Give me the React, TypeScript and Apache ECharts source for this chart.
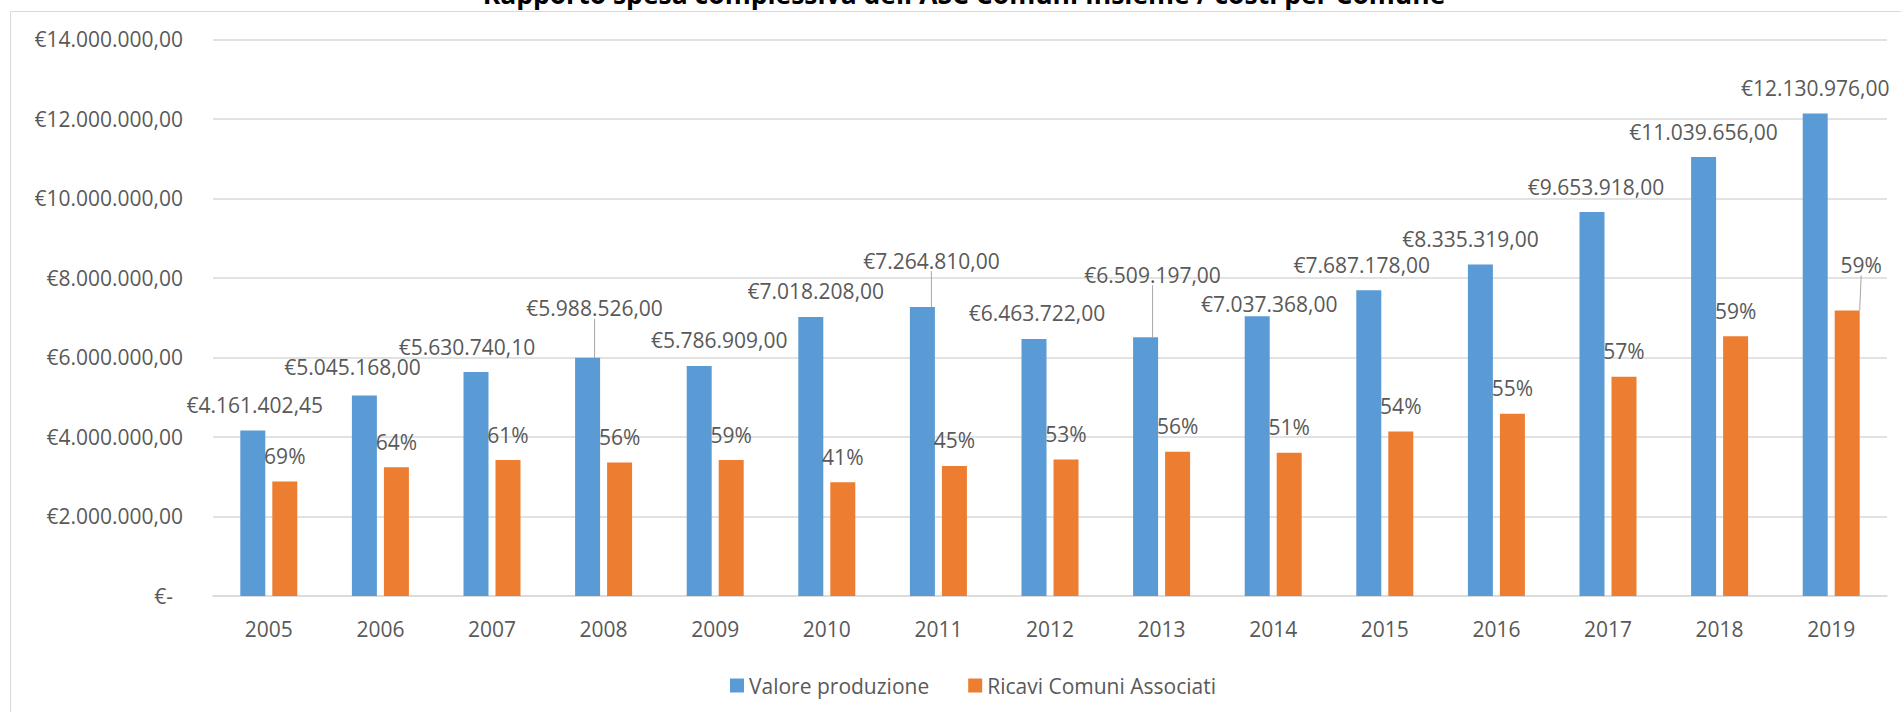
import React, { useEffect, useRef } from "react";
import * as echarts from "echarts";

const years = ["2005", "2006", "2007", "2008", "2009", "2010", "2011", "2012", "2013", "2014", "2015", "2016", "2017", "2018", "2019"];
const valoreProduzione = [4161402.45, 5045168, 5630740.1, 5988526, 5786909, 7018208, 7264810, 6463722, 6509197, 7037368, 7687178, 8335319, 9653918, 11039656, 12130976];
const ricaviComuni = [2880000, 3235000, 3420000, 3360000, 3420000, 2860000, 3270000, 3435000, 3630000, 3600000, 4135000, 4585000, 5515000, 6530000, 7180000];
const percentLabels = ["69%", "64%", "61%", "56%", "59%", "41%", "45%", "53%", "56%", "51%", "54%", "55%", "57%", "59%", "59%"];
const yTicks = [0, 2000000, 4000000, 6000000, 8000000, 10000000, 12000000, 14000000];

// label nudges (style only)
const blueShift = [[2, 0], [-12, -3], [-9, 0], [7, -24], [20, 0], [5, 0], [9, -21], [3, 0], [7, -37], [12, 13], [-7, 0], [-10, 0], [4, 0], [0, 0], [0, 0]];
const blueLeader = [false, false, false, true, false, false, true, false, true, false, false, false, false, false, false];
const orangeShift = [[0, 0], [0, 0], [0, 0], [0, 0], [0, 0], [0, 0], [0, 0], [0, 0], [0, 0], [0, 0], [0, 0], [0, 0], [0, 0], [0, 0], [14, -20]];
const orangeLeader = [false, false, false, false, false, false, false, false, false, false, false, false, false, false, true];

const TITLE = "Rapporto spesa complessiva dell'ASC Comuni Insieme / costi per Comune";
const FONT = "'Open Sans', sans-serif";
const TXT = "#595959";

function fmtEuro(v: number): string {
  const [i, d] = v.toFixed(2).split(".");
  return "€" + i.replace(/\B(?=(\d{3})+(?!\d))/g, ".") + "," + d;
}

export default function App() {
  const ref = useRef<HTMLDivElement>(null);
  useEffect(() => {
    if (!ref.current) return;
    const chart = echarts.init(ref.current, null, { renderer: "svg" });
    const lineStyle = { color: "#a6a6a6", width: 1 };
    chart.setOption({
      animation: false,
      backgroundColor: "#ffffff",
      textStyle: { fontFamily: FONT },
      graphic: [
        {
          type: "rect",
          shape: { x: 10.5, y: 11.5, width: 1900, height: 710 },
          style: { fill: "none", stroke: "#d9d9d9", lineWidth: 1 },
          silent: true,
        },
        {
          type: "text",
          x: 964,
          y: -6,
          style: {
            text: TITLE,
            fontFamily: FONT,
            fontWeight: "bold",
            fontSize: 26.5,
            fill: "#000000",
            textAlign: "center",
            textVerticalAlign: "middle",
          },
          silent: true,
        },
      ],
      legend: {
        left: 725,
        top: 670,
        itemWidth: 14,
        itemHeight: 14,
        itemGap: 39,
        icon: "rect",
        textStyle: { fontFamily: FONT, fontSize: 21, color: TXT },
        data: ["Valore produzione", "Ricavi Comuni Associati"],
      },
      grid: { left: 213, right: 14, top: 39.3, bottom: 116, containLabel: false },
      xAxis: {
        type: "category",
        data: years,
        axisLine: { show: true, lineStyle: { color: "#d9d9d9", width: 1.5 } },
        axisTick: { show: false },
        axisLabel: { fontFamily: FONT, fontSize: 21, color: TXT, margin: 22 },
      },
      yAxis: {
        type: "value",
        min: yTicks[0],
        max: yTicks[yTicks.length - 1],
        interval: yTicks[1] - yTicks[0],
        axisLine: { show: false },
        axisTick: { show: false },
        splitLine: { lineStyle: { color: "#d9d9d9", width: 1.5 } },
        axisLabel: {
          fontFamily: FONT,
          fontSize: 21,
          color: TXT,
          margin: 30,
          formatter: (v: number) => (v === 0 ? "{z|€-}" : fmtEuro(v)),
          rich: { z: { fontFamily: FONT, fontSize: 21, color: TXT, padding: [0, 10, 0, 0] } },
        },
      },
      series: [
        {
          name: "Valore produzione",
          type: "bar",
          barWidth: 25,
          barGap: "28%",
          itemStyle: { color: "#5b9bd5" },
          data: valoreProduzione.map((v, i) => ({
            value: v,
            labelLine: { show: blueLeader[i], lineStyle },
          })),
          label: {
            show: true,
            position: "top",
            distance: 15,
            fontFamily: FONT,
            fontSize: 21,
            color: TXT,
            formatter: (p: any) => fmtEuro(p.value),
          },
          labelLine: { show: false, lineStyle },
          labelLayout: (p: any) => ({ dx: blueShift[p.dataIndex][0], dy: blueShift[p.dataIndex][1] }),
        },
        {
          name: "Ricavi Comuni Associati",
          type: "bar",
          barWidth: 25,
          barGap: "28%",
          itemStyle: { color: "#ed7d31" },
          data: ricaviComuni.map((v, i) => ({
            value: v,
            labelLine: { show: orangeLeader[i], lineStyle },
          })),
          label: {
            show: true,
            position: "top",
            distance: 15,
            fontFamily: FONT,
            fontSize: 21,
            color: TXT,
            formatter: (p: any) => percentLabels[p.dataIndex],
          },
          labelLine: { show: false, lineStyle },
          labelLayout: (p: any) => ({ dx: orangeShift[p.dataIndex][0], dy: orangeShift[p.dataIndex][1] }),
        },
      ],
    });
    return () => chart.dispose();
  }, []);
  return (
    <div
      ref={ref}
      style={{ position: "absolute", left: 0, top: 0, width: 1901, height: 712, background: "#fff" }}
    />
  );
}
